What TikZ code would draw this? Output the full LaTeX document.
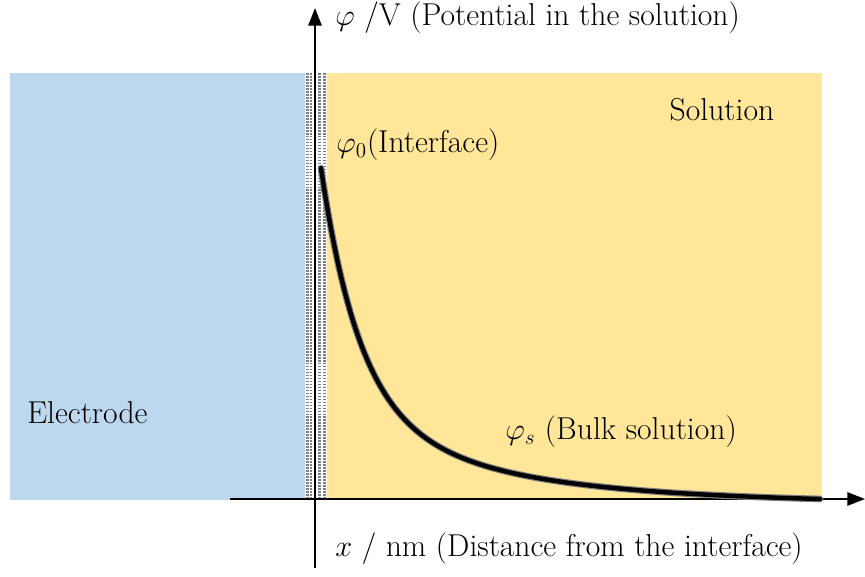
\documentclass[tikz,border=0pt]{standalone}
\usetikzlibrary{arrows.meta}
\definecolor{electrodeblue}{HTML}{BDD7EE}
\definecolor{solutionyellow}{HTML}{FFE699}
\begin{document}
\begin{tikzpicture}[x=0.02cm,y=-0.02cm,
  lbl/.style={font=\fontsize{18}{22}\selectfont,inner sep=0pt},
  axis/.style={line width=1.2pt,-{Triangle[length=10pt,width=7.5pt]}},
  layer/.style={black!50,line width=1.4pt,dash pattern=on 1pt off 0.7pt},
  potential/.style={line cap=round,line join=round}]
\useasboundingbox (0,0) rectangle (865,576);
% electrode and solution
\fill[electrodeblue] (10,73) rectangle (305,500);
\fill[solutionyellow] (327,73) rectangle (822,500);
% double layer
\foreach \x in {307.5,311,319.5,324.5}
  \draw[layer] (\x,73) -- (\x,500);
% axes
\coordinate (xstart) at (230,499);
\coordinate (xend) at (865,499);
\coordinate (ystart) at (315,568);
\coordinate (yend) at (315,8);
\draw[axis] (xstart) -- (xend);
\draw[axis] (ystart) -- (yend);
% potential curve
\draw[potential,black!50,line width=3.8pt] plot[domain=0:499,samples=150]
  ({321+\x},{499-234*exp(-\x/38)-96.8*exp(-\x/144)+3*\x/499});
\draw[potential,black,line width=2.5pt] plot[domain=0:499,samples=150]
  ({321+\x},{499-234*exp(-\x/38)-96.8*exp(-\x/144)+3*\x/499});
% labels
\node[lbl,anchor=west] (ylabel) at (335,18) {$\varphi$ /V (Potential in the solution)};
\node[lbl] (solution) at (722,110) {Solution};
\node[lbl,anchor=west] (phizero) at (336,145) {$\varphi_{\mathrm{0}}$(Interface)};
\node[lbl,anchor=west] (electrode) at (27,413) {Electrode};
\node[lbl,anchor=west] (phis) at (505,432) {$\varphi_s$ (Bulk solution)};
\node[lbl,anchor=west] (xlabel) at (335,549) {$x$ / nm (Distance from the interface)};
\end{tikzpicture}
\end{document}
